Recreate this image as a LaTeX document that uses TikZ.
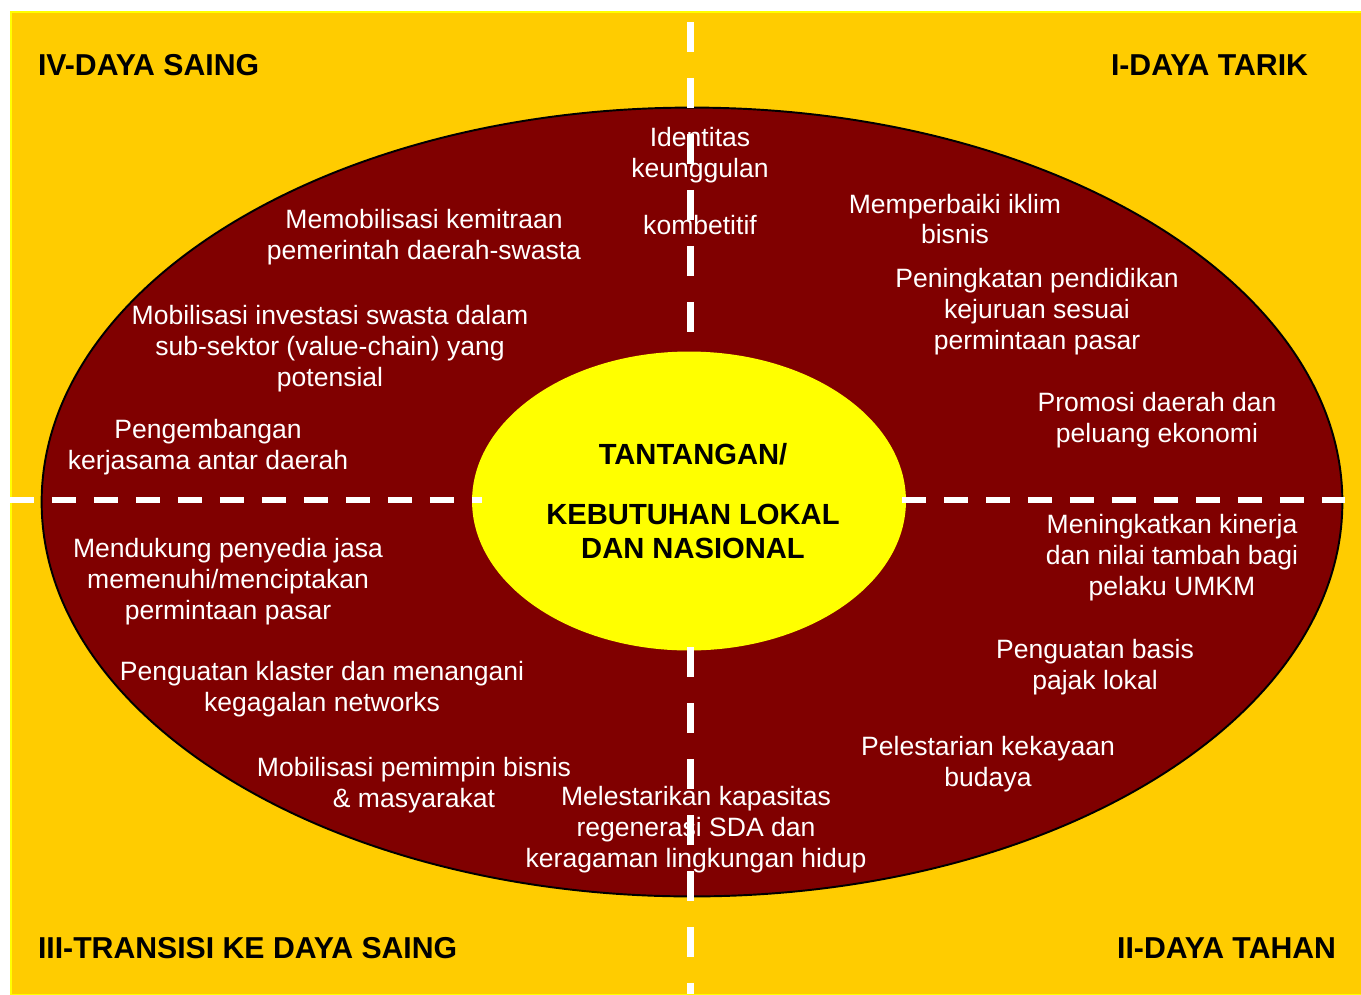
\documentclass[tikz,border=0pt]{standalone}
\usepackage{fontspec}
\setmainfont{Liberation Sans}
\usetikzlibrary{shapes.geometric,positioning}

\definecolor{gold}{HTML}{FFCC00}
\definecolor{maroon}{HTML}{800000}
\definecolor{lemon}{HTML}{FFFF00}

\begin{document}
\begin{tikzpicture}[x=0.02cm,y=-0.02cm,every node/.style={outer sep=0pt},
 ring/.style={ellipse,inner sep=0pt},
 idea/.style={text=white,align=center,yshift=-0.04cm,font=\fontsize{15.1}{17.6}\selectfont},
 zone/.style={inner sep=0pt,font=\fontsize{17.2}{20}\selectfont\bfseries},
 core/.style={align=center,font=\fontsize{16.6}{19.3}\selectfont\bfseries},
 vdash/.style={white,line width=0.14cm,dash pattern=on 0.6cm off 0.52cm},
 hdash/.style={white,line width=0.12cm,dash pattern=on 0.48cm off 0.36cm}]

 \useasboundingbox (0,0) rectangle (1361,994);
 \fill[white] (0,0) rectangle (1361,994);
 \draw[fill=gold,draw=lemon,line width=0.6pt] (11,12) rectangle (1362,995);

 % big ellipse and the centre
 \node[ring,fill=maroon,draw=black,line width=1.1pt,minimum width=26.02cm,
  minimum height=15.78cm] (outer) at (692,502) {};
 \node[ring,fill=lemon,minimum width=8.68cm,minimum height=5.98cm] (inner) at (689,501) {};

 % quadrant lines
 \coordinate (vtop) at (690,22);
 \coordinate (vmid) at (690,337);
 \coordinate (vlow) at (690,647);
 \coordinate (vbot) at (690,994);
 \coordinate (hleft) at (10,500);
 \coordinate (hmidl) at (482,500);
 \coordinate (hmidr) at (902,500);
 \coordinate (hright) at (1345,500);
 \draw[vdash] (vtop) -- (vmid);
 \draw[vdash] (vlow) -- (vbot);
 \draw[hdash] (hleft) -- (hmidl);
 \draw[hdash] (hmidr) -- (hright);

 \node[core] (need) at (693,501) {TANTANGAN/\\[0.52cm]KEBUTUHAN LOKAL\\DAN NASIONAL};

 % corner labels
 \node[zone,anchor=west] (q4) at (38,65) {IV-DAYA SAING};
 \node[zone,anchor=east] (q1) at (1308,65) {I-DAYA TARIK};
 \node[zone,anchor=west] (q3) at (38,948) {III-TRANSISI KE DAYA SAING};
 \node[zone,anchor=east] (q2) at (1336,948) {II-DAYA TAHAN};

 % texts in the ring
 \node[idea] (t1) at (700,179) {Identitas\\keunggulan\\[0.52cm]kombetitif};
 \node[idea] (t2) at (424,235) {Memobilisasi kemitraan\\pemerintah daerah-swasta};
 \node[idea] (t3) at (955,217) {Memperbaiki iklim\\bisnis};
 \node[idea] (t4) at (1037,310) {Peningkatan pendidikan\\kejuruan sesuai\\permintaan pasar};
 \node[idea] (t5) at (330,347) {Mobilisasi investasi swasta dalam\\sub-sektor (value-chain) yang\\potensial};
 \node[idea] (t6) at (1157,418) {Promosi daerah dan\\peluang ekonomi};
 \node[idea] (t7) at (208,445) {Pengembangan\\kerjasama antar daerah};
 \node[idea] (t8) at (228,580) {Mendukung penyedia jasa\\memenuhi/menciptakan\\permintaan pasar};
 \node[idea] (t9) at (1172,556) {Meningkatkan kinerja\\dan nilai tambah bagi\\pelaku UMKM};
 \node[idea] (t10) at (1095,665) {Penguatan basis\\pajak lokal};
 \node[idea] (t11) at (322,687) {Penguatan klaster dan menangani\\kegagalan networks};
 \node[idea] (t12) at (988,762) {Pelestarian kekayaan\\budaya};
 \node[idea] (t13) at (414,783) {Mobilisasi pemimpin bisnis\\\& masyarakat};
 \node[idea] (t14) at (696,828) {Melestarikan kapasitas\\regenerasi SDA dan\\keragaman lingkungan hidup};
\end{tikzpicture}
\end{document}
